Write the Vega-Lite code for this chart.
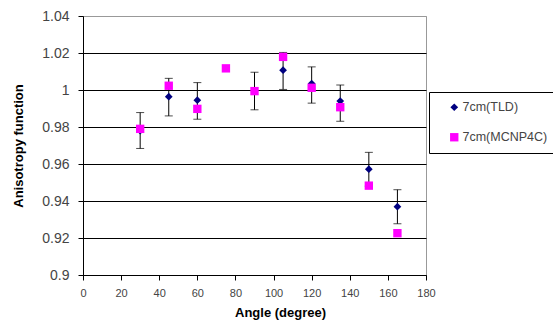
{
  "$schema": "https://vega.github.io/schema/vega-lite/v6.json",
  "autosize": {"type": "none"},
  "padding": {"left": 83, "top": 16, "right": 127, "bottom": 47},
  "width": 343,
  "height": 259,
  "background": "white",
  "config": {
    "view": {"stroke": "#999999", "strokeWidth": 1},
    "font": "Liberation Sans"
  },
  "data": {
    "values": [
      {"angle": 30, "series": "7cm(TLD)", "value": 0.978, "lo": 0.9684, "hi": 0.9878},
      {"angle": 45, "series": "7cm(TLD)", "value": 0.9964, "lo": 0.986, "hi": 1.0063},
      {"angle": 60, "series": "7cm(TLD)", "value": 0.9945, "lo": 0.9842, "hi": 1.004},
      {"angle": 90, "series": "7cm(TLD)", "value": 0.9995, "lo": 0.9893, "hi": 1.0096},
      {"angle": 105, "series": "7cm(TLD)", "value": 1.0107, "lo": 1.0003, "hi": 1.0203},
      {"angle": 120, "series": "7cm(TLD)", "value": 1.0035, "lo": 0.9929, "hi": 1.0125},
      {"angle": 135, "series": "7cm(TLD)", "value": 0.994, "lo": 0.9831, "hi": 1.0027},
      {"angle": 150, "series": "7cm(TLD)", "value": 0.9572, "lo": 0.948, "hi": 0.9663},
      {"angle": 165, "series": "7cm(TLD)", "value": 0.9369, "lo": 0.9277, "hi": 0.9461},
      {"angle": 30, "series": "7cm(MCNP4C)", "value": 0.979},
      {"angle": 45, "series": "7cm(MCNP4C)", "value": 1.0023},
      {"angle": 60, "series": "7cm(MCNP4C)", "value": 0.9898},
      {"angle": 75, "series": "7cm(MCNP4C)", "value": 1.0117},
      {"angle": 90, "series": "7cm(MCNP4C)", "value": 0.9994},
      {"angle": 105, "series": "7cm(MCNP4C)", "value": 1.0179},
      {"angle": 120, "series": "7cm(MCNP4C)", "value": 1.0012},
      {"angle": 135, "series": "7cm(MCNP4C)", "value": 0.9907},
      {"angle": 150, "series": "7cm(MCNP4C)", "value": 0.9483},
      {"angle": 165, "series": "7cm(MCNP4C)", "value": 0.9226}
    ]
  },
  "encoding": {
    "x": {
      "field": "angle", "type": "quantitative",
      "scale": {"domain": [0, 180], "nice": false, "zero": false},
      "axis": {
        "title": "Angle (degree)",
        "values": [0, 20, 40, 60, 80, 100, 120, 140, 160, 180],
        "grid": false,
        "domainColor": "black", "tickColor": "black", "tickSize": 5,
        "labelFont": "Liberation Sans", "labelFontSize": 11, "labelColor": "#444444",
        "labelPadding": 7, "labelFlush": false,
        "titleFont": "Liberation Sans", "titleFontSize": 13, "titleFontWeight": "bold", "titleColor": "black",
        "titleX": 197, "titleY": 37, "titleBaseline": "middle", "titleAnchor": null
      }
    },
    "y": {
      "type": "quantitative",
      "scale": {"domain": [0.9, 1.04], "nice": false, "zero": false},
      "axis": {
        "title": "Anisotropy function",
        "values": [0.9, 0.92, 0.94, 0.96, 0.98, 1.0, 1.02, 1.04],
        "format": "~g",
        "grid": true,
        "gridColor": {"condition": {"test": "datum.value >= 1.039", "value": "#999999"}, "value": "black"},
        "gridOpacity": 1,
        "domainColor": "black", "tickColor": "black", "tickSize": 5,
        "labelFont": "Liberation Sans", "labelFontSize": 14, "labelColor": "#444444",
        "labelPadding": 9,
        "titleFont": "Liberation Sans", "titleFontSize": 13, "titleFontWeight": "bold", "titleColor": "black",
        "titleX": -65, "titleBaseline": "middle"
      }
    }
  },
  "layer": [
    {
      "transform": [{"filter": "datum.series == '7cm(TLD)'"}],
      "mark": {"type": "rule", "color": "black", "strokeWidth": 1},
      "encoding": {"y": {"field": "lo", "type": "quantitative"}, "y2": {"field": "hi"}}
    },
    {
      "transform": [{"filter": "datum.series == '7cm(TLD)'"}],
      "mark": {"type": "tick", "orient": "horizontal", "color": "black", "size": 8, "thickness": 1},
      "encoding": {"y": {"field": "lo", "type": "quantitative"}}
    },
    {
      "transform": [{"filter": "datum.series == '7cm(TLD)'"}],
      "mark": {"type": "tick", "orient": "horizontal", "color": "black", "size": 8, "thickness": 1},
      "encoding": {"y": {"field": "hi", "type": "quantitative"}}
    },
    {
      "mark": {"type": "point", "filled": true, "opacity": 1},
      "encoding": {
        "y": {"field": "value", "type": "quantitative"},
        "order": {"field": "series", "sort": "descending"},
        "color": {
          "field": "series", "type": "nominal",
          "scale": {"domain": ["7cm(TLD)", "7cm(MCNP4C)"], "range": ["#000080", "#FF00FF"]},
          "legend": {
            "title": null, "orient": "none", "legendX": 346, "legendY": 76,
            "strokeColor": "black", "fillColor": "white", "padding": 9,
            "rowPadding": 17, "symbolOffset": 10, "labelOffset": 2,
            "labelExpr": "datum.label + '      '",
            "labelFont": "Liberation Sans", "labelFontSize": 12.5, "labelColor": "#444444",
            "symbolSize": 45, "symbolStrokeWidth": 0
          }
        },
        "shape": {
          "field": "series", "type": "nominal",
          "scale": {"domain": ["7cm(TLD)", "7cm(MCNP4C)"], "range": ["diamond", "square"]}
        },
        "size": {
          "field": "series", "type": "nominal",
          "scale": {"domain": ["7cm(TLD)", "7cm(MCNP4C)"], "range": [60, 70]},
          "legend": null
        }
      }
    }
  ]
}
